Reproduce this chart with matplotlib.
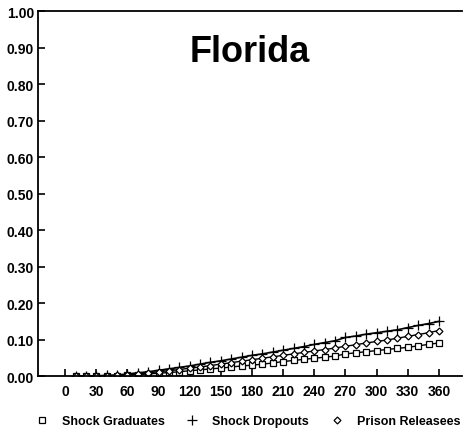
import matplotlib
matplotlib.use('Agg')
import matplotlib.pyplot as plt

plt.rcParams['font.family'] = ['Liberation Sans', 'DejaVu Sans']

days = list(range(10, 370, 10))
graduates = [0.000, 0.000, 0.000, 0.001, 0.001, 0.003, 0.004, 0.006, 0.008, 0.010,
             0.012, 0.015, 0.017, 0.020, 0.022, 0.025, 0.028, 0.030, 0.033, 0.036,
             0.040, 0.043, 0.046, 0.049, 0.052, 0.055, 0.061, 0.064, 0.067, 0.070,
             0.073, 0.076, 0.079, 0.083, 0.087, 0.091]
dropouts = [0.000, 0.000, 0.001, 0.002, 0.003, 0.006, 0.009, 0.012, 0.016, 0.020,
            0.024, 0.028, 0.033, 0.038, 0.042, 0.047, 0.052, 0.057, 0.061, 0.066,
            0.071, 0.076, 0.081, 0.087, 0.092, 0.097, 0.106, 0.110, 0.115, 0.119,
            0.123, 0.127, 0.133, 0.139, 0.144, 0.150]
releasees = [0.000, 0.000, 0.001, 0.001, 0.002, 0.004, 0.006, 0.009, 0.012, 0.015,
             0.018, 0.022, 0.025, 0.029, 0.033, 0.037, 0.041, 0.045, 0.049, 0.053,
             0.057, 0.061, 0.065, 0.069, 0.073, 0.077, 0.082, 0.086, 0.091, 0.095,
             0.099, 0.104, 0.109, 0.114, 0.119, 0.125]

fig = plt.figure(figsize=(4.65, 4.35), dpi=100)
ax = fig.add_axes([0.082, 0.133, 0.911, 0.839])

ax.plot(days, graduates, 'k-', marker='s', mfc='white', ms=5, mew=0.9, lw=1.0, label='Shock Graduates')
ax.plot(days, dropouts, 'k-', marker='+', ms=7, mew=0.9, lw=1.2, label='Shock Dropouts')
ax.plot(days, releasees, 'k-', marker='D', mfc='white', ms=3.5, mew=0.9, lw=1.0, label='Prison Releasees')

ax.set_xlim(-26, 382)
ax.set_ylim(0, 1.0)
ax.set_xticks(range(0, 361, 30))
ax.set_yticks([i / 10 for i in range(11)])
ax.set_yticklabels(['%.2f' % (i / 10) for i in range(11)])
ax.tick_params(direction='in', length=5, width=1.2, labelsize=10, pad=3)
ax.tick_params(axis='x', pad=6)
for lab in ax.get_xticklabels() + ax.get_yticklabels():
    lab.set_fontweight('bold')
ax.spines['right'].set_visible(False)
for s in ['left', 'bottom', 'top']:
    ax.spines[s].set_linewidth(1.3)

ax.text(0.5, 0.89, 'Florida', transform=ax.transAxes, ha='center', va='center',
        fontsize=26, fontweight='bold')

fig.legend(loc='center', bbox_to_anchor=(0.533, 0.03), ncol=3, frameon=False,
           prop={'weight': 'bold', 'size': 9}, handlelength=1.0, columnspacing=1.7,
           handletextpad=1.1, borderpad=0, borderaxespad=0)
for line in fig.legends[0].get_lines():
    line.set_linestyle('none')

fig.savefig('out.png', dpi=100)
